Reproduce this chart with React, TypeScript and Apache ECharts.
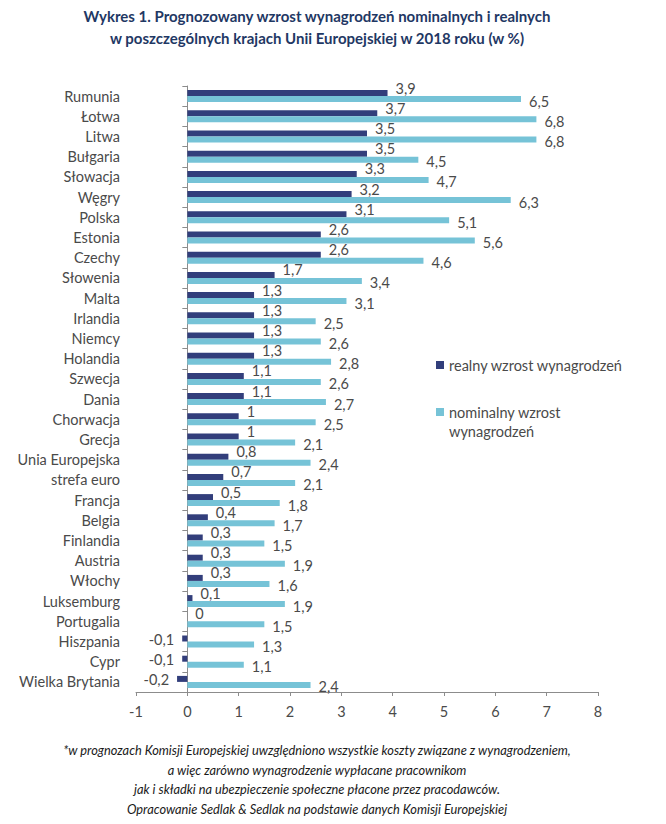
import React, { useEffect, useRef } from 'react';
import * as echarts from 'echarts';

const categories = [
  'Rumunia', 'Łotwa', 'Litwa', 'Bułgaria', 'Słowacja', 'Węgry', 'Polska', 'Estonia', 'Czechy',
  'Słowenia', 'Malta', 'Irlandia', 'Niemcy', 'Holandia', 'Szwecja', 'Dania', 'Chorwacja', 'Grecja',
  'Unia Europejska', 'strefa euro', 'Francja', 'Belgia', 'Finlandia', 'Austria', 'Włochy',
  'Luksemburg', 'Portugalia', 'Hiszpania', 'Cypr', 'Wielka Brytania',
];

const realValues = [
  3.9, 3.7, 3.5, 3.5, 3.3, 3.2, 3.1, 2.6, 2.6, 1.7, 1.3, 1.3, 1.3, 1.3, 1.1, 1.1, 1, 1, 0.8, 0.7,
  0.5, 0.4, 0.3, 0.3, 0.3, 0.1, 0, -0.1, -0.1, -0.2,
];

const nominalValues = [
  6.5, 6.8, 6.8, 4.5, 4.7, 6.3, 5.1, 5.6, 4.6, 3.4, 3.1, 2.5, 2.6, 2.8, 2.6, 2.7, 2.5, 2.1, 2.4, 2.1,
  1.8, 1.7, 1.5, 1.9, 1.6, 1.9, 1.5, 1.3, 1.1, 2.4,
];

const xMin = -1;
const xMax = 8;
const xInterval = 1;

const seriesNames = ['realny wzrost wynagrodzeń', 'nominalny wzrost wynagrodzeń'];
const legendLines = [['realny wzrost wynagrodzeń'], ['nominalny wzrost', 'wynagrodzeń']];

const titleLines = [
  'Wykres 1. Prognozowany wzrost wynagrodzeń nominalnych i realnych',
  'w poszczególnych krajach Unii Europejskiej w 2018 roku (w %)',
];

const footnoteLines = [
  '*w prognozach Komisji Europejskiej uwzględniono wszystkie koszty związane z wynagrodzeniem,',
  'a więc zarówno wynagrodzenie wypłacane pracownikom',
  'jak i składki na ubezpieczenie społeczne płacone przez pracodawców.',
  'Opracowanie Sedlak & Sedlak na podstawie danych Komisji Europejskiej',
];

const DARK = '#323E7B';
const LIGHT = '#76C3D7';
const TEXT = '#4A4A4A';
const AXIS = '#8C8C8C';
const FONT = 'Lato, "Open Sans", sans-serif';

const fmt = (v: number) => String(v).replace('.', ',');

export default function App() {
  const ref = useRef<HTMLDivElement>(null);

  useEffect(() => {
    const chart = echarts.init(ref.current!, null, { renderer: 'svg' });

    const graphic: any[] = [];
    titleLines.forEach((t, i) => {
      graphic.push({
        type: 'text',
        x: 317,
        y: 16 + i * 22,
        style: {
          text: t,
          fill: '#1F3864',
          font: `bold 15px ${FONT}`,
          textAlign: 'center',
          textVerticalAlign: 'middle',
        },
      });
    });
    footnoteLines.forEach((t, i) => {
      graphic.push({
        type: 'text',
        x: 317,
        y: 750 + i * 19.5,
        style: {
          text: t,
          fill: '#1A1A1A',
          font: `italic 12.8px ${FONT}`,
          textAlign: 'center',
          textVerticalAlign: 'middle',
        },
      });
    });
    const legendTops = [365, 412];
    const legendColors = [DARK, LIGHT];
    legendLines.forEach((lines, i) => {
      graphic.push({
        type: 'rect',
        shape: { x: 436, y: legendTops[i] - 4, width: 8, height: 8 },
        style: { fill: legendColors[i] },
      });
      lines.forEach((line, j) => {
        graphic.push({
          type: 'text',
          x: 449,
          y: legendTops[i] + j * 19,
          style: {
            text: line,
            fill: TEXT,
            font: `14.5px ${FONT}`,
            textAlign: 'left',
            textVerticalAlign: 'middle',
          },
        });
      });
    });

    chart.setOption({
      animation: false,
      textStyle: { fontFamily: FONT },
      grid: { left: 136, right: 68, top: 86, bottom: 132, containLabel: false },
      xAxis: {
        type: 'value',
        min: xMin,
        max: xMax,
        interval: xInterval,
        splitLine: { show: false },
        axisLine: { show: true, onZero: false, lineStyle: { color: AXIS, width: 1 } },
        axisTick: { show: true, length: 4, lineStyle: { color: AXIS } },
        axisLabel: { color: TEXT, fontSize: 14.5, margin: 12, fontFamily: FONT },
      },
      yAxis: [
        {
          type: 'category',
          data: categories,
          inverse: true,
          axisLine: { show: false, onZero: false },
          axisTick: { show: false },
          axisLabel: { color: TEXT, fontSize: 14.5, margin: 16, interval: 0, fontFamily: FONT },
        },
        {
          type: 'category',
          data: categories,
          inverse: true,
          position: 'left',
          axisLine: { show: true, onZero: true, lineStyle: { color: AXIS, width: 1 } },
          axisTick: { show: true, length: 5, interval: 0, lineStyle: { color: AXIS } },
          axisLabel: { show: false },
        },
      ],
      series: [
        {
          type: 'bar',
          name: seriesNames[0],
          yAxisIndex: 0,
          barWidth: 6,
          barGap: '0%',
          itemStyle: { color: DARK },
          label: {
            show: true,
            position: 'right',
            distance: 5,
            offset: [3, -5],
            color: TEXT,
            fontSize: 14.5,
            fontFamily: FONT,
            formatter: (p: any) => fmt(p.value),
          },
          data: realValues.map((v) =>
            v < 0
              ? { value: v, label: { position: 'left', offset: [-3, 1] } }
              : { value: v },
          ),
        },
        {
          type: 'bar',
          name: seriesNames[1],
          yAxisIndex: 0,
          barWidth: 6,
          barGap: '0%',
          itemStyle: { color: LIGHT },
          label: {
            show: true,
            position: 'right',
            distance: 5,
            offset: [3, 2],
            color: TEXT,
            fontSize: 14.5,
            fontFamily: FONT,
            formatter: (p: any) => fmt(p.value),
          },
          data: nominalValues,
        },
      ],
      graphic,
    });

    return () => chart.dispose();
  }, []);

  return (
    <div
      ref={ref}
      style={{ position: 'absolute', left: 0, top: 0, width: 666, height: 824, background: '#ffffff' }}
    />
  );
}
